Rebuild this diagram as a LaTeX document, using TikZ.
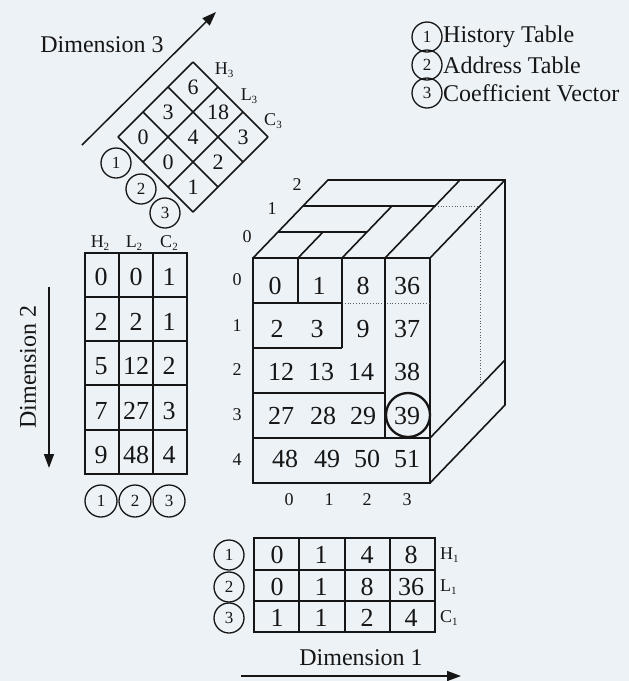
\documentclass[tikz,border=0pt]{standalone}
\usepackage{fontspec}
\setmainfont{Liberation Serif}
\usetikzlibrary{arrows.meta}
\definecolor{bg}{RGB}{237,242,246}
\definecolor{ink}{RGB}{22,22,22}
\newcommand{\sbs}[1]{\raisebox{-0.35ex}{\fontsize{11}{11}\selectfont #1}}
\tikzset{
  num/.style={font=\fontsize{26}{26}\selectfont, inner sep=0pt, text=ink},
  dnum/.style={font=\fontsize{22}{22}\selectfont, inner sep=0pt, text=ink},
  lbl/.style={font=\fontsize{18}{18}\selectfont, inner sep=0pt, text=ink},
  sublbl/.style={font=\fontsize{18}{18}\selectfont, inner sep=0pt, text=ink},
  circnum/.style={circle, draw=ink, line width=1.3pt, minimum size=30pt, inner sep=0pt,
    font=\fontsize{17}{17}\selectfont, text=ink},
  bigcirc/.style={circnum, minimum size=32pt},
  bigtxt/.style={font=\fontsize{24}{24}\selectfont, inner sep=0pt, text=ink},
  ln/.style={draw=ink, line width=1.6pt},
  thickln/.style={draw=ink, line width=2.6pt},
  dotln/.style={draw=ink!70, line width=0.8pt, dotted},
  arr/.style={draw=ink, line width=1.5pt, -{Triangle[length=14pt,width=10pt]}},
}
\begin{document}
\begin{tikzpicture}[x=1pt,y=-1pt]
\fill[bg] (0,0) rectangle (629,681);
\useasboundingbox (0,0) rectangle (629,681);

% ---------- Legend ----------
\node[circnum] (lg1) at (427,37) {1};
\node[circnum] (lg2) at (427,65) {2};
\node[circnum] (lg3) at (427,93) {3};
\node[bigtxt, anchor=west] (lt1) at (443,37) {History Table};
\node[bigtxt, anchor=west] (lt2) at (443,65) {Address Table};
\node[bigtxt, anchor=west] (lt3) at (443,93) {Coefficient Vector};

% ---------- Dimension 3 (diamond) ----------
\node[bigtxt] (d3txt) at (102,45) {Dimension 3};
\coordinate (d3a) at (82,145);
\coordinate (d3b) at (216,12);
\draw[arr] (d3a) -- (d3b);

\foreach \j in {0,...,3}{
  \draw[ln] ({193+25*\j},{62+25*\j}) -- ({193-75+25*\j},{62+75+25*\j});
  \draw[ln] ({193-25*\j},{62+25*\j}) -- ({193+75-25*\j},{62+75+25*\j});
}
\node[dnum] (h30) at (193,87) {6};
\node[dnum] (h31) at (168,112) {3};
\node[dnum] (h32) at (143,137) {0};
\node[dnum] (l30) at (218,112) {18};
\node[dnum] (l31) at (193,137) {4};
\node[dnum] (l32) at (168,162) {0};
\node[dnum] (c30) at (243,137) {3};
\node[dnum] (c31) at (218,162) {2};
\node[dnum] (c32) at (193,187) {1};
\node[circnum] (dc1) at (116,163) {1};
\node[circnum] (dc2) at (141,189) {2};
\node[circnum] (dc3) at (165,213) {3};
\node[sublbl] (lH3) at (224,70) {H\sbs{3}};
\node[sublbl] (lL3) at (249,96) {L\sbs{3}};
\node[sublbl] (lC3) at (273,121) {C\sbs{3}};

% ---------- Dimension 2 (left table) ----------
\node[bigtxt, rotate=90] (d2txt) at (28,367) {Dimension 2};
\coordinate (d2a) at (49,287);
\coordinate (d2b) at (49,468);
\draw[arr] (d2a) -- (d2b);

\draw[ln] (85,253) rectangle (187,474);
\foreach \x in {119,153} \draw[ln] (\x,253) -- (\x,474);
\foreach \y in {297,341,385,430} \draw[ln] (85,\y) -- (187,\y);
\node[sublbl] (hH2) at (100,243) {H\sbs{2}};
\node[sublbl] (hL2) at (134,243) {L\sbs{2}};
\node[sublbl] (hC2) at (169,243) {C\sbs{2}};
\node[num] (t00) at (101,277) {0};  \node[num] (t01) at (136,277) {0};  \node[num] (t02) at (169,277) {1};
\node[num] (t10) at (101,322) {2};  \node[num] (t11) at (136,322) {2};  \node[num] (t12) at (169,322) {1};
\node[num] (t20) at (101,366) {5};  \node[num] (t21) at (136,366) {12}; \node[num] (t22) at (169,366) {2};
\node[num] (t30) at (101,411) {7};  \node[num] (t31) at (136,411) {27}; \node[num] (t32) at (169,411) {3};
\node[num] (t40) at (101,455) {9};  \node[num] (t41) at (136,455) {48}; \node[num] (t42) at (169,455) {4};
\node[bigcirc] (lc1) at (101,501) {1};
\node[bigcirc] (lc2) at (135,501) {2};
\node[bigcirc] (lc3) at (169,501) {3};

% ---------- Cube ----------
\draw[ln] (253,258) rectangle (430,483);
\draw[ln] (253,303) -- (342,303);
\draw[dotln] (342,303) -- (430,303);
\draw[ln] (298,258) -- (298,303);
\draw[ln] (342,258) -- (342,348);
\draw[ln] (253,348) -- (342,348);
\draw[ln] (253,393) -- (385,393);
\draw[thickln] (385,258) -- (385,438);
\draw[ln] (253,438) -- (430,438);
\draw[ln] (253,258) -- (328,180) -- (505,180) -- (505,405) -- (430,483);
\draw[ln] (430,258) -- (505,180);
\draw[ln] (278,232) -- (367,232);
\draw[ln] (303,206) -- (435,206);
\draw[dotln] (435,206) -- (480,206) -- (480,386);
\draw[ln] (298,258) -- (323,232);
\draw[ln] (342,258) -- (392,206);
\draw[ln] (385,258) -- (460,180);
\draw[ln] (430,438) -- (505,360);

\node[lbl] (z0) at (247,237) {0};
\node[lbl] (z1) at (272,209) {1};
\node[lbl] (z2) at (297,185) {2};
\node[lbl] (r0) at (237,280) {0};
\node[lbl] (r1) at (237,326) {1};
\node[lbl] (r2) at (237,370) {2};
\node[lbl] (r3) at (237,415) {3};
\node[lbl] (r4) at (237,460) {4};
\node[lbl] (k0) at (289,500) {0};
\node[lbl] (k1) at (329,500) {1};
\node[lbl] (k2) at (367,500) {2};
\node[lbl] (k3) at (407,500) {3};

\node[num] (f00) at (275,286) {0};
\node[num] (f01) at (319,286) {1};
\node[num] (f02) at (363,286) {8};
\node[num] (f03) at (407,286) {36};
\node[num] (f10) at (277,329) {2};
\node[num] (f11) at (317,329) {3};
\node[num] (f12) at (363,329) {9};
\node[num] (f13) at (407,329) {37};
\node[num] (f20) at (281,372) {12};
\node[num] (f21) at (321,372) {13};
\node[num] (f22) at (361,372) {14};
\node[num] (f23) at (407,372) {38};
\node[num] (f30) at (281,416) {27};
\node[num] (f31) at (323,416) {28};
\node[num] (f32) at (363,416) {29};
\node[num] (f33) at (407,416) {39};
\node[num] (f40) at (285,459) {48};
\node[num] (f41) at (327,459) {49};
\node[num] (f42) at (367,459) {50};
\node[num] (f43) at (407,459) {51};
\node[circle, draw=ink, line width=2.3pt, minimum size=44pt, inner sep=0pt] (hl) at (408,415) {};

% ---------- Dimension 1 (bottom table) ----------
\draw[ln] (254,538) rectangle (435,632);
\foreach \x in {299,345,390} \draw[ln] (\x,538) -- (\x,632);
\foreach \y in {570,601} \draw[ln] (254,\y) -- (435,\y);
\node[circnum] (bc1) at (229,555) {1};
\node[circnum] (bc2) at (229,587) {2};
\node[circnum] (bc3) at (229,618) {3};
\node[num] (b00) at (277,555) {0}; \node[num] (b01) at (321,555) {1}; \node[num] (b02) at (367,555) {4}; \node[num] (b03) at (411,555) {8};
\node[num] (b10) at (277,587) {0}; \node[num] (b11) at (321,587) {1}; \node[num] (b12) at (367,587) {8}; \node[num] (b13) at (411,587) {36};
\node[num] (b20) at (277,618) {1}; \node[num] (b21) at (321,618) {1}; \node[num] (b22) at (367,618) {2}; \node[num] (b23) at (411,618) {4};
\node[sublbl, anchor=west] (hH1) at (440,555) {H\sbs{1}};
\node[sublbl, anchor=west] (hL1) at (440,587) {L\sbs{1}};
\node[sublbl, anchor=west] (hC1) at (440,618) {C\sbs{1}};
\node[bigtxt] (d1txt) at (361,658) {Dimension 1};
\coordinate (d1a) at (241,676);
\coordinate (d1b) at (461,676);
\draw[arr] (d1a) -- (d1b);
\end{tikzpicture}
\end{document}
